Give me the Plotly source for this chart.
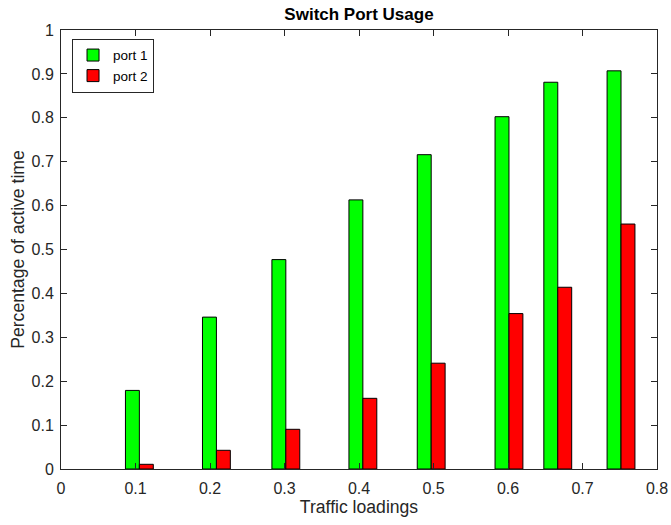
import plotly.graph_objects as go

loadings = [0.1052, 0.2086, 0.3018, 0.4052, 0.4969, 0.6013, 0.6668, 0.7517]
port1 = [0.179, 0.346, 0.477, 0.613, 0.716, 0.8025, 0.881, 0.907]
port2 = [0.0107, 0.0426, 0.0904, 0.161, 0.241, 0.354, 0.414, 0.558]
x_ticks = [0, 0.1, 0.2, 0.3, 0.4, 0.5, 0.6, 0.7, 0.8]
y_ticks = [0, 0.1, 0.2, 0.3, 0.4, 0.5, 0.6, 0.7, 0.8, 0.9, 1]

bw = 0.0187
axcol = "#262626"
font = "Liberation Sans, Arial, Helvetica, sans-serif"

fig = go.Figure()
fig.add_trace(go.Bar(x=loadings, y=port1, name="port 1", width=bw, offset=-bw,
                     marker=dict(color="#00FF00", line=dict(color="black", width=1))))
fig.add_trace(go.Bar(x=loadings, y=port2, name="port 2", width=bw, offset=0,
                     marker=dict(color="#FF0000", line=dict(color="black", width=1))))

fig.update_layout(
    width=671, height=525,
    margin=dict(l=61, r=14, t=30, b=56),
    paper_bgcolor="white", plot_bgcolor="white",
    barmode="overlay",
    font=dict(family=font, size=16, color=axcol),
    title=dict(text="<b>Switch Port Usage</b>", x=0.535, xanchor="center",
               y=1 - 14 / 525, yanchor="middle", font=dict(size=17, color="black")),
    legend=dict(x=0.0185, y=0.98, xanchor="left", yanchor="top",
                bgcolor="white", bordercolor=axcol, borderwidth=1,
                font=dict(size=13.5, color="black"), itemwidth=30,
                tracegroupgap=0),
    showlegend=True,
)
fig.update_xaxes(range=[0, 0.8], tickvals=x_ticks, ticktext=[f"{v:g}" for v in x_ticks],
                 ticks="inside", ticklen=6, tickcolor=axcol, showline=True,
                 linecolor=axcol, linewidth=1, mirror="ticks", showgrid=False,
                 zeroline=False, automargin="height", ticklabelstandoff=5,
                 title=dict(text="Traffic loadings", font=dict(size=17.6), standoff=3))
fig.update_yaxes(range=[0, 1], tickvals=y_ticks, ticktext=[f"{v:g}" for v in y_ticks],
                 ticks="inside", ticklen=6, tickcolor=axcol, showline=True,
                 linecolor=axcol, linewidth=1, mirror="ticks", showgrid=False,
                 zeroline=False, automargin="width", ticklabelstandoff=3,
                 title=dict(text="Percentage of active time", font=dict(size=17.6), standoff=2))

fig.write_html("out.html", config={"displayModeBar": False},
               post_script="document.body.style.margin='0';")
